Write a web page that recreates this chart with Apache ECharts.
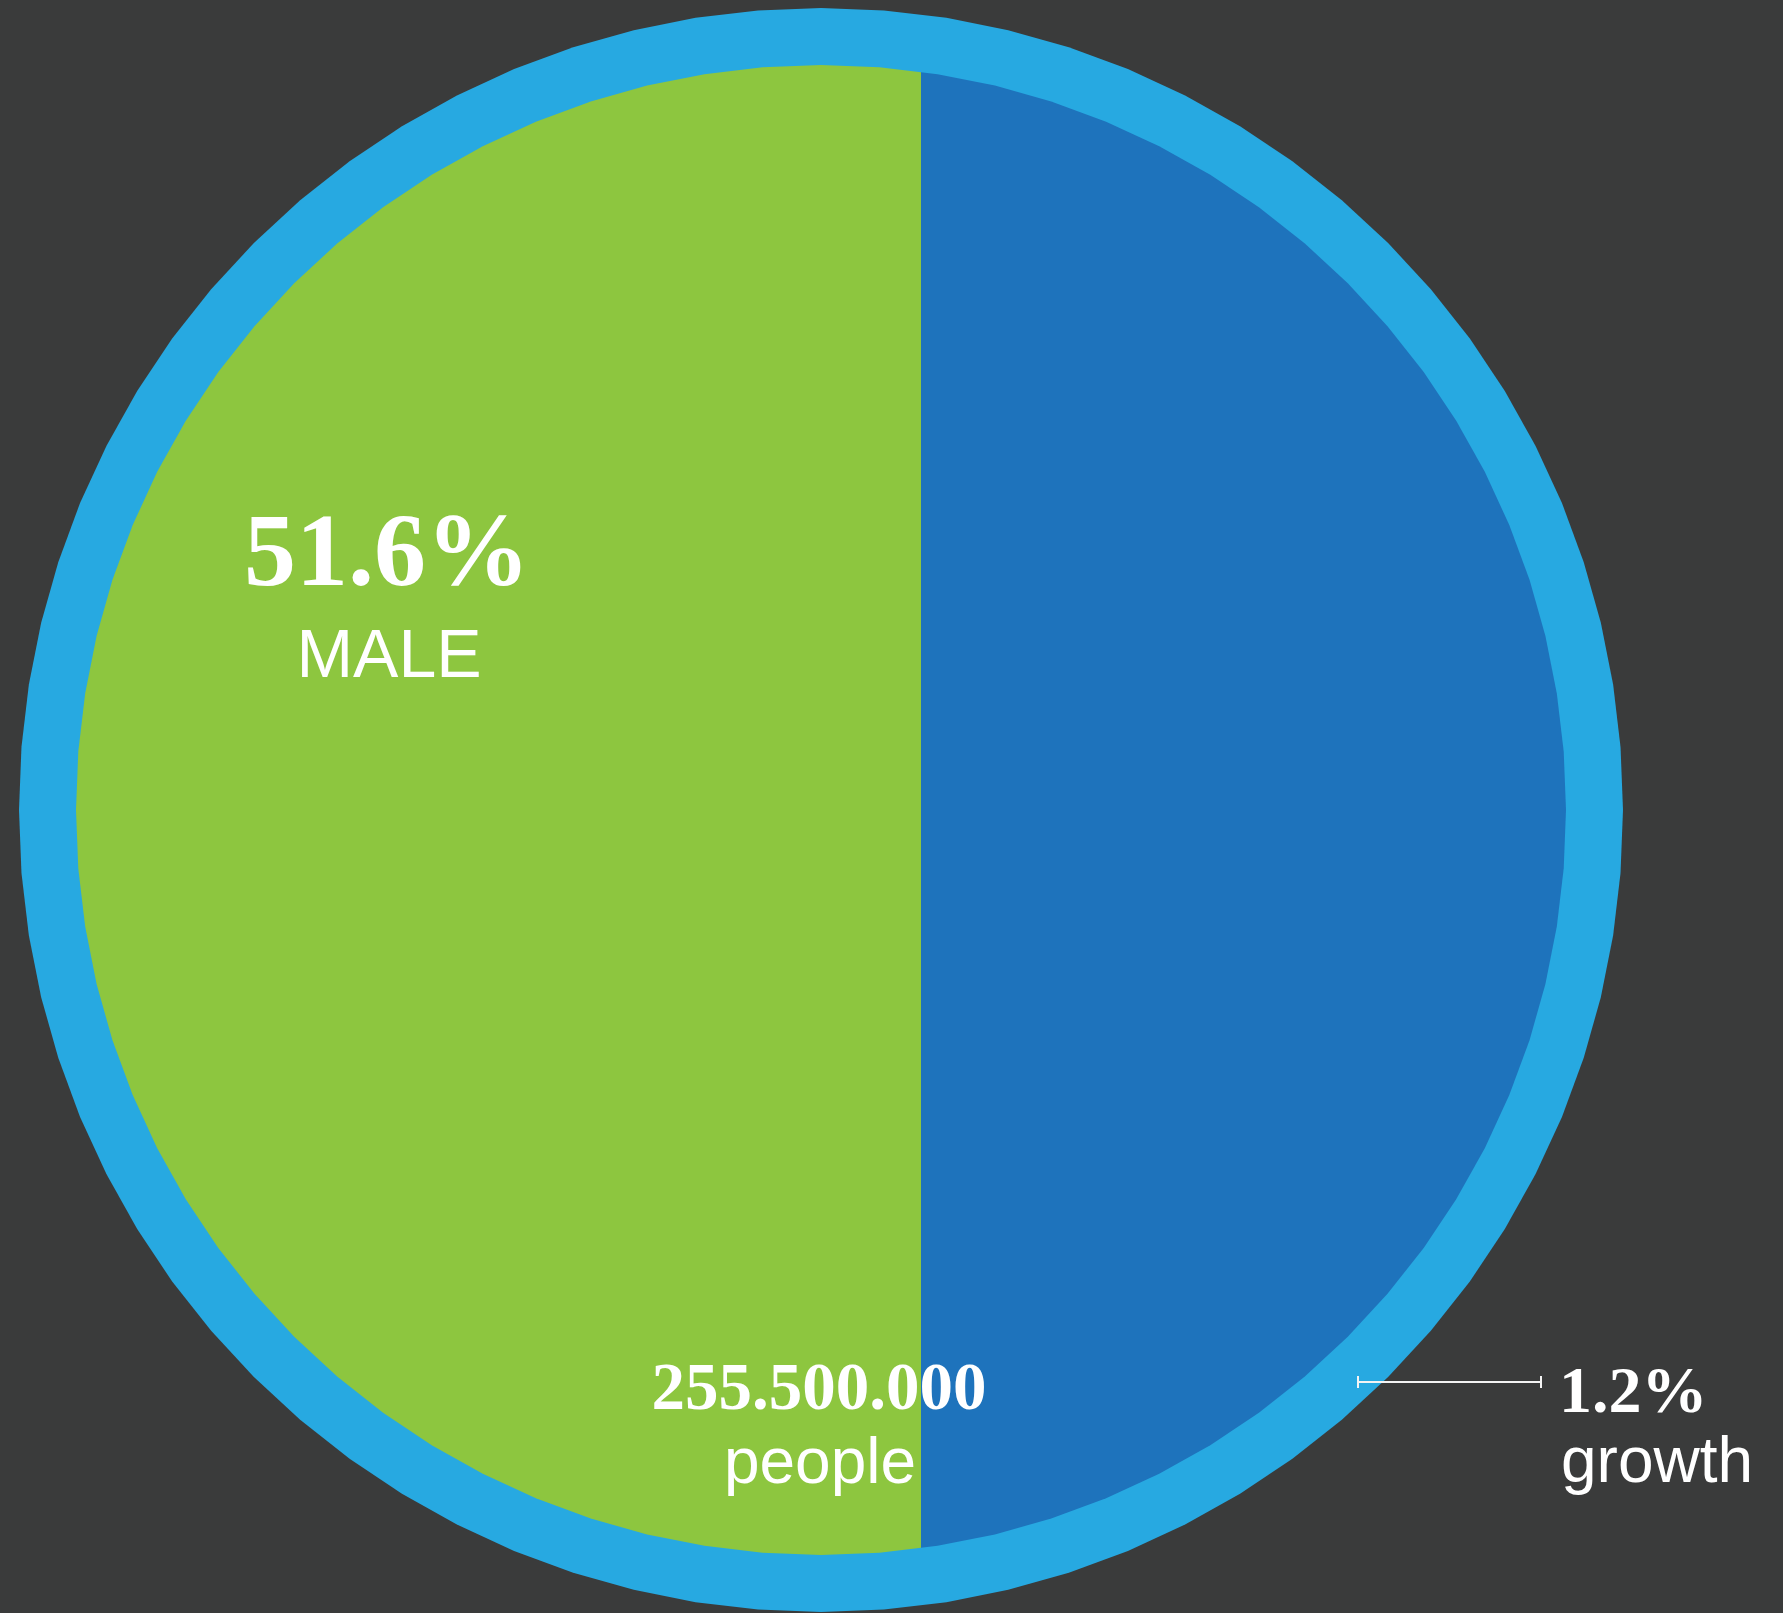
<!DOCTYPE html>
<html>
<head>
<meta charset="utf-8">
<title>Population by gender</title>
<script src="https://cdn.jsdelivr.net/npm/echarts@6/dist/echarts.min.js"></script>
<style>
  html, body { margin: 0; padding: 0; background: #3a3b3b; }
  #chart { width: 1783px; height: 1613px; }
</style>
</head>
<body>
<div id="chart"></div>
<script>
// ---- data ----
const categories = ['MALE', 'FEMALE'];
const shares = [51.6, 48.4];          // percent of population
const population = [255500000];       // total people
const growth = [1.2];                 // yearly growth, percent

// ---- layout & style ----
const CX = 821, CY = 810;             // disc centre (px)
const R_OUT = 802, R_IN = 745;        // outer ring / inner disc radius (px)
const SIDES = 80;                     // facets of the disc outline
const COLORS = ['#8dc63f', '#1e73bc'];
const RING = '#27a9e1';
const BG = '#3a3b3b';
const INK = '#ffffff';

function polygon(cx, cy, r, n) {
  const pts = [];
  for (let k = 0; k < n; k++) {
    const a = k * 2 * Math.PI / n;
    pts.push([cx + r * Math.sin(a), cy - r * Math.cos(a)]);
  }
  return pts;
}

// Sutherland–Hodgman clip of a convex polygon against a vertical half-plane
function clipHalf(pts, xb, keepRight) {
  const inside = p => keepRight ? p[0] >= xb : p[0] <= xb;
  const out = [];
  for (let i = 0; i < pts.length; i++) {
    const p = pts[i], q = pts[(i + 1) % pts.length];
    const pin = inside(p), qin = inside(q);
    if (pin) out.push(p);
    if (pin !== qin) {
      const t = (xb - p[0]) / (q[0] - p[0]);
      out.push([xb, p[1] + t * (q[1] - p[1])]);
    }
  }
  return out;
}

// cumulative spans along the share axis
const spans = [];
let acc = 0;
shares.forEach((v, i) => { spans.push([acc, acc + v, i]); acc += v; });

function formatThousands(n) {
  return String(n).replace(/\B(?=(\d{3})+(?!\d))/g, '.');
}

function label(x, y, text, font, align) {
  return {
    type: 'text', x: x, y: y, z: 100,
    style: { text: text, font: font, fill: INK, textAlign: align || 'center', textVerticalAlign: 'middle' }
  };
}

function rule(x1, y1, x2, y2) {
  return {
    type: 'line', z: 100,
    shape: { x1: x1, y1: y1, x2: x2, y2: y2 },
    style: { stroke: '#f4f4f4', lineWidth: 2 }
  };
}

const chart = echarts.init(document.getElementById('chart'), null, { renderer: 'canvas' });

const option = {
  backgroundColor: BG,
  animation: false,
  grid: { left: 76, top: 0, width: 1637.6, height: 1613 },
  xAxis: { type: 'value', min: 0, max: 100, show: false },
  yAxis: { type: 'value', min: 0, max: 1, show: false },
  series: [
    {
      name: 'ring',
      type: 'custom',
      clip: false,
      silent: true,
      z: 1,
      data: [[0, 0]],
      renderItem: function () {
        return {
          type: 'polygon',
          shape: { points: polygon(CX, CY, R_OUT, SIDES) },
          style: { fill: RING }
        };
      }
    },
    {
      name: 'share',
      type: 'custom',
      clip: false,
      z: 2,
      data: spans,
      renderItem: function (params, api) {
        const x0 = api.coord([api.value(0), 0])[0];
        const x1 = api.coord([api.value(1), 0])[0];
        let pts = polygon(CX, CY, R_IN, SIDES);
        pts = clipHalf(pts, x0, true);
        pts = clipHalf(pts, x1, false);
        return {
          type: 'polygon',
          shape: { points: pts },
          style: { fill: COLORS[api.value(2)] }
        };
      }
    }
  ],
  graphic: {
    elements: [
      label(387, 558, shares[0].toFixed(1) + '%', 'bold 104px "Liberation Serif", serif'),
      label(389, 658, categories[0], '68px "Liberation Sans", Arial, sans-serif'),
      label(819, 1392, formatThousands(population[0]), 'bold 67px "Liberation Serif", serif'),
      label(820, 1465, 'people', '64px "Liberation Sans", Arial, sans-serif'),
      label(1559, 1395, growth[0].toFixed(1) + '%', 'bold 66px "Liberation Serif", serif', 'left'),
      label(1561, 1464, 'growth', '64px "Liberation Sans", Arial, sans-serif', 'left'),
      rule(1357, 1382, 1542, 1382),
      rule(1358, 1376, 1358, 1388),
      rule(1541, 1376, 1541, 1388)
    ]
  }
};

chart.setOption(option);
</script>
</body>
</html>
